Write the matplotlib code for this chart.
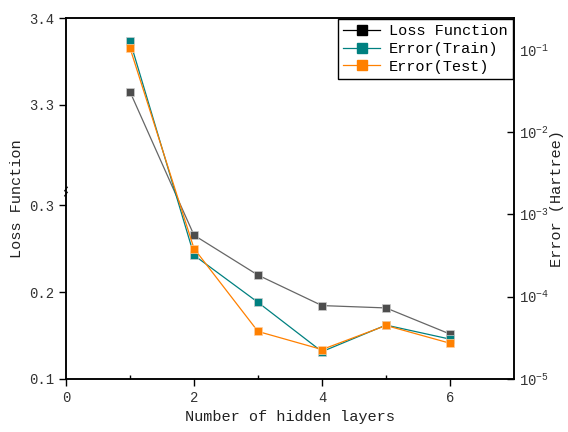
#loss / error vs network depth

import numpy as np
import matplotlib
matplotlib.use('Agg')
import matplotlib.pyplot as plt
from matplotlib.lines import Line2D
from matplotlib.ticker import FixedLocator, NullLocator, LogLocator

layers = [1, 2, 3, 4, 5, 6]
loss = [3.315, 0.2657, 0.2197, 0.1846, 0.1819, 0.1518]
err_train = [1.28e-1, 3.19e-4, 8.53e-5, 2.15e-5, 4.52e-5, 3.05e-5]
err_test = [1.05e-1, 3.85e-4, 3.78e-5, 2.28e-5, 4.47e-5, 2.72e-5]

loss_ticks = [0.1, 0.2, 0.3, 3.3, 3.4]

# broken left axis: 0.1..BRK_LO then BRK_HI..3.4
BRK_LO = 0.316
BRK_HI = 3.2
GAP = BRK_HI - BRK_LO


def fwd(y):
    y = np.asarray(y, dtype=float)
    return np.where(y < BRK_LO, y, np.where(y > BRK_HI, y - GAP, BRK_LO))


def inv(t):
    t = np.asarray(t, dtype=float)
    return np.where(t <= BRK_LO, t, t + GAP)


plt.rcParams['font.family'] = ['Liberation Mono', 'DejaVu Sans Mono']
plt.rcParams['mathtext.fontset'] = 'stix'

fig = plt.figure(figsize=(5.68, 4.32), dpi=100)
ax = fig.add_axes([66 / 568, 1 - 379 / 432, 448 / 568, 361 / 432])

c_loss = '#4d4d4d'
c_train = '#008080'
c_test = '#ff8000'

ax.plot(layers, loss, color='#666666', lw=0.9, marker='s', ms=6,
        mfc=c_loss, mec='#cccccc', mew=0.5, zorder=3)

ax.set_yscale('function', functions=(fwd, inv))
ax.set_ylim(0.1, 3.4)
ax.yaxis.set_major_locator(FixedLocator(loss_ticks))
ax.yaxis.set_minor_locator(NullLocator())
ax.set_yticklabels([f'{v:.1f}' for v in loss_ticks])
ax.set_xlim(0, 7)
ax.set_xticks([0, 2, 4, 6])
ax.set_xticks([1, 3, 5], minor=True)
ax.tick_params(axis='y', direction='out', length=5, width=1, labelsize=10,
               labelcolor='#333333')
ax.tick_params(axis='x', which='major', direction='out', length=5, width=1,
               labelsize=10, labelcolor='#333333')
ax.tick_params(axis='x', which='minor', direction='in', length=3, width=1)
ax.set_xlabel('Number of hidden layers', fontsize=11, color='#222222')
ax.set_ylabel('Loss Function', fontsize=11, color='#222222')

# break marks on the left spine
yb = (fwd(BRK_LO) - 0.1) / (fwd(3.4) - 0.1)
for dy in (-0.007, 0.007):
    ax.plot([-0.003, 0.003], [yb + dy - 0.005, yb + dy + 0.005],
            transform=ax.transAxes, color='k', lw=0.8, clip_on=False,
            zorder=5)

ax2 = ax.twinx()
ax2.plot(layers, err_train, color=c_train, lw=0.9, marker='s', ms=6,
         mfc=c_train, mec='#cccccc', mew=0.5, zorder=3)
ax2.plot(layers, err_test, color=c_test, lw=0.9, marker='s', ms=6,
         mfc=c_test, mec='#ffd0a0', mew=0.5, zorder=4)
ax2.set_yscale('log')
ax2.set_ylim(1e-5, 10 ** -0.614)
ax2.yaxis.set_major_locator(LogLocator(base=10, numticks=10))
ax2.yaxis.set_minor_locator(NullLocator())
ax2.tick_params(axis='y', direction='in', length=5, width=1, labelsize=10,
                labelcolor='#333333')
ax2.set_ylabel('Error (Hartree)', fontsize=11, color='#222222', labelpad=1)

for a in (ax, ax2):
    for s in a.spines.values():
        s.set_linewidth(1.1)

handles = [
    Line2D([], [], color='k', lw=0.9, marker='s', ms=7, mfc='k', mec='k'),
    Line2D([], [], color=c_train, lw=0.9, marker='s', ms=7, mfc=c_train, mec=c_train),
    Line2D([], [], color=c_test, lw=0.9, marker='s', ms=7, mfc=c_test, mec=c_test),
]
leg = ax2.legend(handles, ['Loss Function', 'Error(Train)', 'Error(Test)'],
                 loc='upper right', bbox_to_anchor=(0.998, 0.998), fontsize=11,
                 frameon=True, fancybox=False, framealpha=1, edgecolor='k',
                 borderpad=0.35, labelspacing=0.25, handlelength=2.4,
                 handletextpad=0.6, borderaxespad=0.0)
leg.get_frame().set_linewidth(1.0)
leg.set_zorder(10)

fig.savefig('out.png', dpi=100)
